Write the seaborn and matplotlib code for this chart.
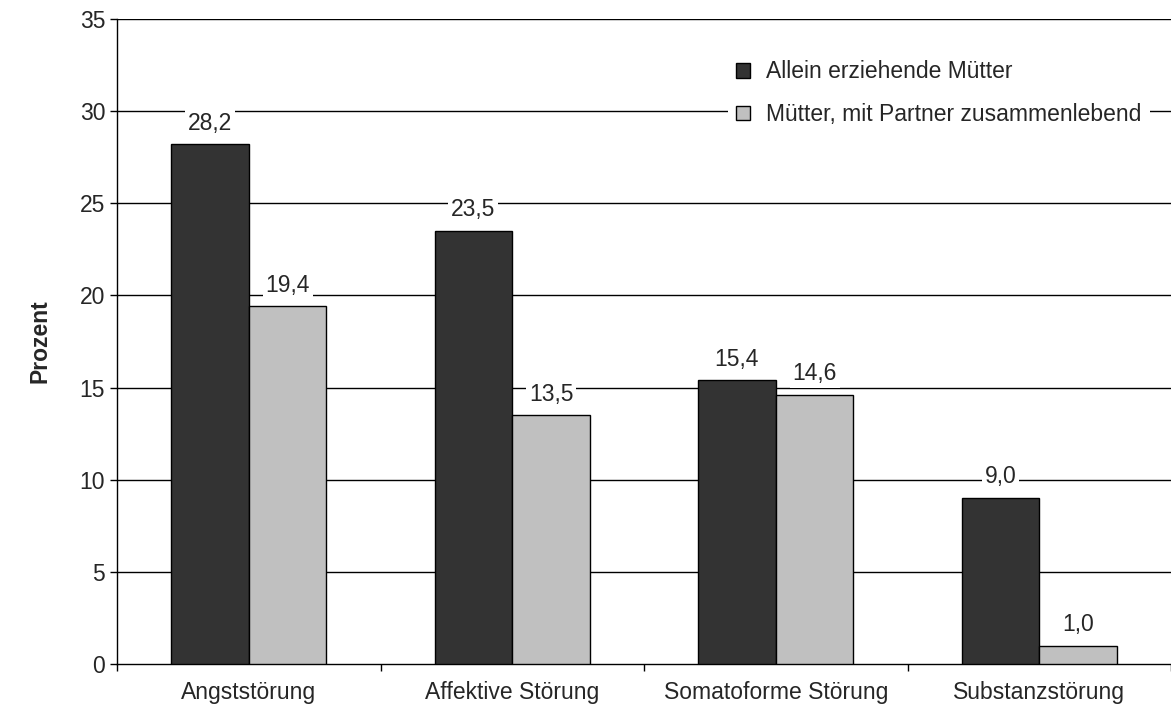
import numpy as np
import pandas as pd
import matplotlib
matplotlib.use("Agg")
import matplotlib.pyplot as plt
import seaborn as sns

categories = ["Angststörung", "Affektive Störung", "Somatoforme Störung", "Substanzstörung"]
series_names = ["Allein erziehende Mütter", "Mütter, mit Partner zusammenlebend"]
allein = [28.2, 23.5, 15.4, 9.0]
partner = [19.4, 13.5, 14.6, 1.0]
colors = ["#333333", "#c0c0c0"]
y_ticks = [0, 5, 10, 15, 20, 25, 30, 35]

df = pd.DataFrame({
    "Kategorie": categories * 2,
    "Gruppe": [series_names[0]] * 4 + [series_names[1]] * 4,
    "Prozent": allein + partner,
})

sns.set_style("white")
plt.rcParams["font.family"] = ["Liberation Sans", "DejaVu Sans"]
FS = 16.5

fig = plt.figure(figsize=(11.71, 7.10), dpi=100)
ax = fig.add_axes([117 / 1171, 46 / 710, 1 - 117 / 1171, (664 - 19) / 710])

sns.barplot(data=df, x="Kategorie", y="Prozent", hue="Gruppe", order=categories,
            hue_order=series_names, palette=colors, width=0.59, gap=0,
            edgecolor="black", linewidth=1, saturation=1, ax=ax, zorder=3)

# horizontal grid lines
for y in y_ticks[1:]:
    ax.axhline(y, color="black", lw=1, zorder=1)

# value labels with white background cutting the grid
for cont in ax.containers:
    for bar in cont:
        h = bar.get_height()
        ax.text(bar.get_x() + bar.get_width() / 2, h + 1.15, f"{h:.1f}".replace(".", ","),
                ha="center", va="center", fontsize=FS, zorder=4,
                bbox=dict(facecolor="white", edgecolor="none", pad=2))

ax.set_ylim(0, 35)
ax.set_xlim(-0.5, 3.5)
ax.set_yticks(y_ticks)
ax.set_yticklabels([str(t) for t in y_ticks], fontsize=FS)
ax.tick_params(axis="y", left=True, length=5, width=1, color="black", pad=3.5)

ax.set_xticks(range(len(categories)))
ax.set_xticklabels(categories, fontsize=FS)
ax.tick_params(axis="x", which="major", bottom=False, length=0, pad=12)
ax.set_xticks([-0.5, 0.5, 1.5, 2.5, 3.5], minor=True)
ax.tick_params(axis="x", which="minor", bottom=True, length=5, width=1, color="black")

ax.set_xlabel("")
ax.set_ylabel("Prozent", fontsize=FS, fontweight="bold", labelpad=20)

for side in ["top", "right"]:
    ax.spines[side].set_visible(False)
for side in ["left", "bottom"]:
    ax.spines[side].set_color("black")
    ax.spines[side].set_linewidth(1)

leg = ax.legend(loc="upper left", bbox_to_anchor=(0.569, 0.966), frameon=True,
                fontsize=FS, handlelength=0.62, handleheight=0.62, labelspacing=0.86,
                handletextpad=0.7, borderpad=0.35)
leg.get_frame().set_facecolor("white")
leg.get_frame().set_edgecolor("none")
leg.get_frame().set_alpha(1)
for h in leg.legend_handles:
    h.set_edgecolor("black")
    h.set_linewidth(1)

fig.savefig("out.png", dpi=100)
